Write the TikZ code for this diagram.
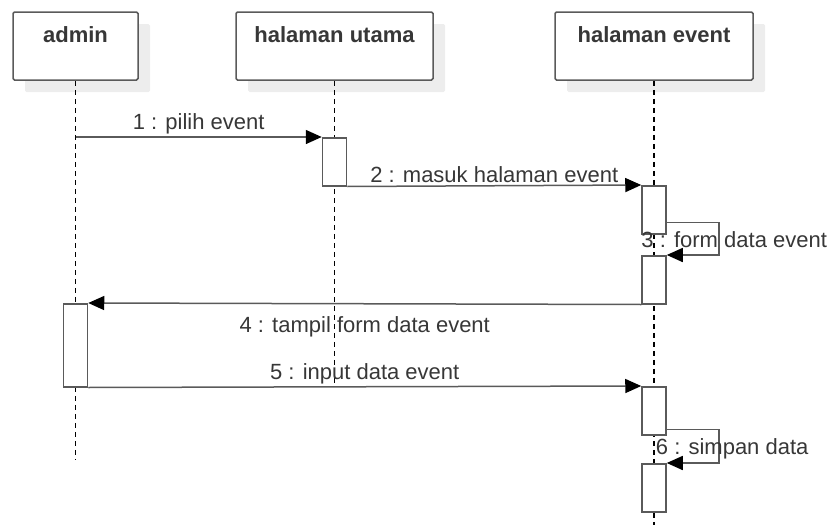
\documentclass[tikz,border=0pt]{standalone}
\usepackage{fontspec}
\setmainfont{Liberation Sans}
\usetikzlibrary{arrows.meta, shadows}
\definecolor{linegray}{RGB}{90,90,90}
\definecolor{textgray}{RGB}{55,55,55}

\begin{document}
\begin{tikzpicture}[x=1pt, y=-1pt,
    participant/.style={rectangle, draw=linegray, line width=1.5pt, rounded corners=1.5pt, fill=white, text=textgray, font=\fontsize{22}{26}\selectfont\bfseries, inner xsep=0pt, inner ysep=0pt, text height=30pt, text depth=38pt, drop shadow={shadow xshift=12pt, shadow yshift=-12pt, fill=black!7, opacity=1}},
    lifeline/.style={black, line width=1.6pt, dash pattern=on 5pt off 4pt},
    act/.style={rectangle, draw=linegray, line width=1.5pt, fill=white, minimum width=24pt, inner sep=0pt, anchor=north},
    msg/.style={draw=linegray, line width=1.5pt, -{Triangle[length=16pt, width=14pt, color=black]}},
    lbl/.style={font=\fontsize{22}{26}\selectfont, text=textgray, inner sep=2pt}
]
\useasboundingbox (0,0) rectangle (831,525);

% ========== PARTICIPANTS ==========
\node[participant, minimum width=125pt] (admin) at (75.5,46) {admin};
\node[participant, minimum width=197pt] (utama) at (334.5,46) {halaman utama};
\node[participant, minimum width=198pt] (event) at (654,46) {halaman event};

% ========== LIFELINES ==========
\coordinate (adminEnd) at (75.5,460);
\coordinate (utamaEnd) at (334.5,386);
\coordinate (eventEnd) at (654,525);
\draw[lifeline] (admin.south) -- (adminEnd);
\draw[lifeline] (utama.south) -- (utamaEnd);
\draw[lifeline] (event.south) -- (eventEnd);

% ========== ACTIVATIONS ==========
\node[act, minimum height=48pt] (actU) at (334.5,137) {};
\node[act, minimum height=48pt] (actE1) at (654,185) {};
\node[act, minimum height=48pt] (actE2) at (654,255) {};
\node[act, minimum height=83pt] (actA) at (75.5,303) {};
\node[act, minimum height=48pt] (actE3) at (654,386) {};
\node[act, minimum height=48pt] (actE4) at (654,463) {};

% ========== MESSAGES ==========
\draw[msg] (admin.south |- actU.north west) -- node[lbl, above] {1 : pilih event} (actU.north west);
\draw[msg] (actU.south east) -- node[lbl, above] {2 : masuk halaman event} (actE1.north west);
\draw[msg] ([yshift=12pt]actE1.south east) -- ++(52,0) |- (actE2.north east);
\node[lbl, anchor=base west] (lbl3) at ([shift={(-2pt,-13pt)}]actE1.south west) {3 : form data event};
\draw[msg] (actE2.south west) -- node[lbl, below=10pt] {4 : tampil form data event} (actA.north east);
\draw[msg] (actA.south east) -- node[lbl, above] {5 : input data event} (actE3.north west);
\draw[msg] ([yshift=6pt]actE3.south east) -- ++(52,0) |- (actE4.north east);
\node[lbl, anchor=base west] (lbl6) at ([shift={(12.5pt,-19pt)}]actE3.south west) {6 : simpan data};

\end{tikzpicture}
\end{document}
